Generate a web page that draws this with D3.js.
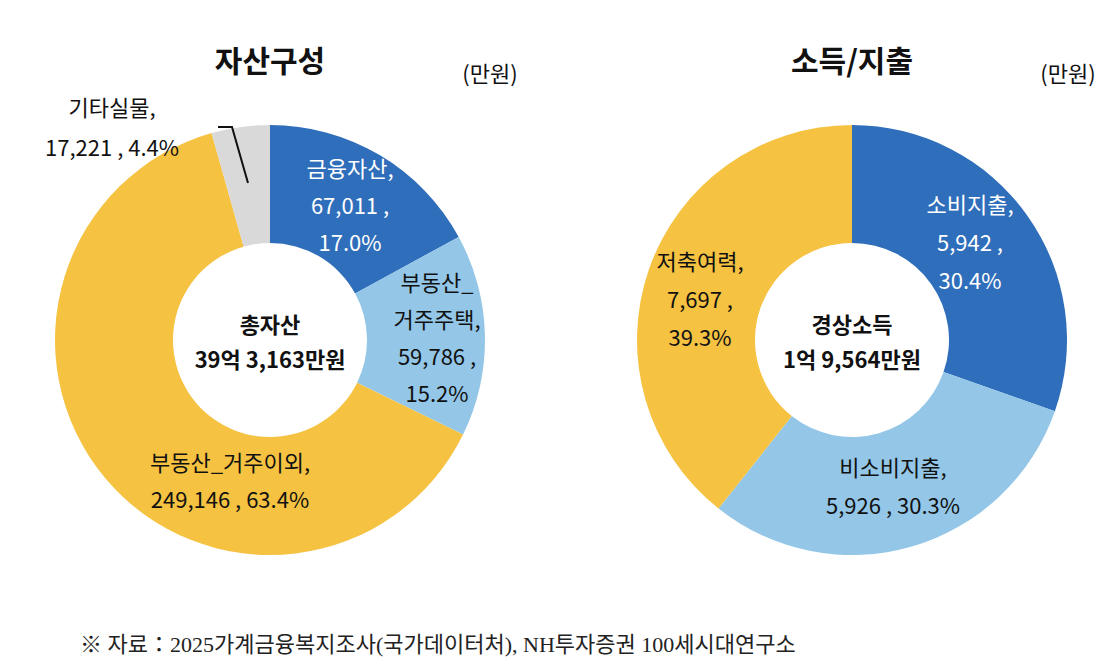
<!DOCTYPE html>
<html><head><meta charset="utf-8">
<script src="https://cdn.jsdelivr.net/npm/d3@7"></script>
<style>body{margin:0;background:#fff}text{font-family:"Noto Sans CJK KR","Noto Sans",sans-serif}</style>
</head><body>
<svg id="chart" width="1117" height="666"></svg>
<script>
// data
var assetCats = ["금융자산", "부동산_거주주택", "부동산_거주이외", "기타실물"];
var assetVals = [67011, 59786, 249146, 17221];
var assetPct = ["17.0%", "15.2%", "63.4%", "4.4%"];
var incomeCats = ["소비지출", "비소비지출", "저축여력"];
var incomeVals = [5942, 5926, 7697];
var incomePct = ["30.4%", "30.3%", "39.3%"];

var svg = d3.select("#chart");
var fmt = d3.format(",");

function donut(cx, cy, vals, colors) {
  var g = svg.append("g").attr("transform", "translate(" + cx + "," + cy + ")");
  var pie = d3.pie().sort(null)(vals);
  var arc = d3.arc().innerRadius(97).outerRadius(215);
  g.selectAll("path").data(pie).enter().append("path")
    .attr("d", arc).attr("fill", function(d, i) { return colors[i]; });
  return g;
}

function lines(x, y, arr, opts) {
  var t = svg.append("text").attr("text-anchor", "middle")
    .attr("font-size", opts.size || 22).attr("fill", opts.fill || "#111")
    .attr("font-weight", opts.bold ? "bold" : "normal");
  arr.forEach(function(s, i) {
    t.append("tspan").attr("x", x).attr("y", y + i * (opts.lh || 37)).text(s);
  });
}

donut(270, 340, assetVals, ["#2F6EBA", "#93C6E7", "#F5C242", "#D9D9D9"]);
donut(852, 340, incomeVals, ["#2F6EBA", "#93C6E7", "#F5C242"]);

// titles
lines(270, 72, ["자산구성"], {size: 30, bold: true});
lines(490, 82, ["(만원)"], {size: 22});
lines(852, 72, ["소득/지출"], {size: 30, bold: true});
lines(1068, 82, ["(만원)"], {size: 22});

// asset labels
lines(350, 177, [assetCats[0] + ",", fmt(assetVals[0]) + " ,", assetPct[0]], {fill: "#fff"});
lines(437, 291, ["부동산_", "거주주택,", fmt(assetVals[1]) + " ,", assetPct[1]], {});
lines(230, 471, [assetCats[2] + ",", fmt(assetVals[2]) + " , " + assetPct[2]], {});
lines(112, 116, [assetCats[3] + ",", fmt(assetVals[3]) + " , " + assetPct[3]], {lh: 40});
svg.append("path").attr("d", "M218,127 L232,127 L248,183").attr("fill", "none")
  .attr("stroke", "#111").attr("stroke-width", 2);
lines(270, 333, ["총자산", "39억 3,163만원"], {bold: true, lh: 35});

// income labels
lines(970, 213, [incomeCats[0] + ",", fmt(incomeVals[0]) + " ,", incomePct[0]], {fill: "#fff", lh: 38});
lines(893, 476, [incomeCats[1] + ",", fmt(incomeVals[1]) + " , " + incomePct[1]], {lh: 38});
lines(700, 270, [incomeCats[2] + ",", fmt(incomeVals[2]) + " ,", incomePct[2]], {lh: 38});
lines(852, 333, ["경상소득", "1억 9,564만원"], {bold: true, lh: 35});

// source
svg.append("text").attr("x", 80).attr("y", 652).attr("font-size", 22).attr("fill", "#222")
  .style("font-family", "'Liberation Serif','Noto Sans CJK KR',serif")
  .text("※ 자료：2025가계금융복지조사(국가데이터처), NH투자증권 100세시대연구소");
</script>
</body></html>
